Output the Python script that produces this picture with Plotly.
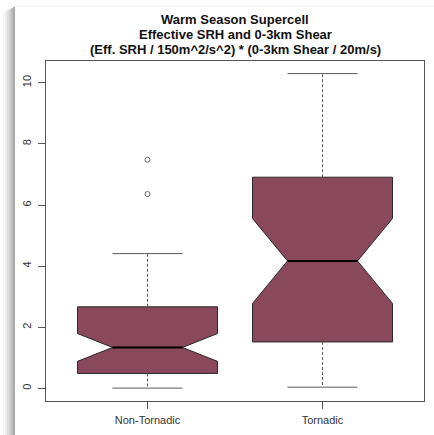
import plotly.graph_objects as go

# Summary statistics of the index for each group
categories = ["Non-Tornadic", "Tornadic"]
positions = [1, 2]
lower_whisker = [0.01, 0.04]
q1 = [0.49, 1.52]
median = [1.34, 4.17]
q3 = [2.67, 6.91]
upper_whisker = [4.41, 10.30]
notch_span = [0.455, 1.39]
outliers_x = [1, 1]
outliers_y = [7.48, 6.36]

y_ticks = [0, 2, 4, 6, 8, 10]
title_lines = [
    "Warm Season Supercell",
    "Effective SRH and 0-3km Shear",
    "(Eff. SRH / 150m^2/s^2) * (0-3km Shear / 20m/s)",
]

W, H = 434, 435
L, R, T, B = 46, 10, 61, 34
box_w = 0.8
fill = "#8A485C"
edge = "#2a2a2a"
whisk = "#5a5a5a"

fig = go.Figure()

# Notched boxes (whiskers drawn separately as dashed lines)
for i, cat in enumerate(categories):
    fig.add_trace(go.Box(
        x=[positions[i]], q1=[q1[i]], median=[median[i]], q3=[q3[i]],
        lowerfence=[q1[i]], upperfence=[q3[i]],
        notched=True, notchspan=[notch_span[i]], notchwidth=0.25,
        width=box_w, fillcolor=fill, line=dict(color=edge, width=1),
        whiskerwidth=0, boxpoints=False, name=cat, showlegend=False,
        hoverinfo="skip",
    ))

for i in range(len(categories)):
    p = positions[i]
    # dashed whiskers
    fig.add_trace(go.Scatter(
        x=[p, p, None, p, p], y=[q3[i], upper_whisker[i], None, q1[i], lower_whisker[i]],
        mode="lines", line=dict(color=whisk, width=1, dash="3px,2px"),
        showlegend=False, hoverinfo="skip"))
    # staples
    half = box_w / 4
    fig.add_trace(go.Scatter(
        x=[p - half, p + half, None, p - half, p + half],
        y=[upper_whisker[i], upper_whisker[i], None, lower_whisker[i], lower_whisker[i]],
        mode="lines", line=dict(color=whisk, width=1),
        showlegend=False, hoverinfo="skip"))
    # heavy median line across the notch
    fig.add_trace(go.Scatter(
        x=[p - half, p + half], y=[median[i], median[i]],
        mode="lines", line=dict(color="#000000", width=2),
        showlegend=False, hoverinfo="skip"))

# outlying points
fig.add_trace(go.Scatter(
    x=outliers_x, y=outliers_y, mode="markers",
    marker=dict(symbol="circle-open", size=5, color="#666666", line=dict(width=1)),
    showlegend=False, hoverinfo="skip"))

# pixel -> paper helpers
def px_x(x):
    return (x - L) / (W - L - R)

def px_y(y):
    return (H - B - y) / (H - T - B)

# drop shadow along the left edge of the card
shades = [(3, "#f6f6f6"), (5, "#ececec"), (7, "#dedede"), (9, "#cfcfcf"),
          (11, "#bdbdbd"), (13, "#a9a9a9")]
for j, (x0, c) in enumerate(shades):
    fig.add_shape(type="rect", xref="paper", yref="paper", layer="below",
                  x0=px_x(x0), x1=px_x(x0 + 2), y0=px_y(H), y1=px_y(12 - j),
                  line=dict(width=0), fillcolor=c)
fig.add_shape(type="line", xref="paper", yref="paper", layer="below",
              x0=px_x(15), x1=px_x(W), y0=px_y(6), y1=px_y(6),
              line=dict(color="#f1f1f1", width=1))

# three-line bold title
for k, line in enumerate(title_lines):
    fig.add_annotation(
        text=f"<b>{line}</b>", xref="paper", yref="paper",
        x=0.5, y=px_y(19 + 15.5 * k), xanchor="center", yanchor="middle",
        showarrow=False,
        font=dict(family="Liberation Sans, Arial, sans-serif", size=13, color="#111111"),
    )

axis_common = dict(
    showline=True, linecolor="#555555", linewidth=1, mirror=True,
    ticks="outside", ticklen=7, tickcolor="#555555", tickwidth=1,
    showgrid=False, zeroline=False,
    tickfont=dict(family="Liberation Sans, Arial, sans-serif", size=11, color="#333333"),
)

fig.update_layout(
    width=W, height=H,
    margin=dict(l=L, r=R, t=T, b=B),
    paper_bgcolor="white", plot_bgcolor="white",
    xaxis=dict(range=[0.42, 2.58], tickvals=positions, ticktext=categories,
               ticklabelstandoff=2, **axis_common),
    yaxis=dict(range=[-0.412, 10.712], tickvals=y_ticks, tickangle=-90,
               ticklabelstandoff=3, **axis_common),
)

fig.write_html("out.html")
